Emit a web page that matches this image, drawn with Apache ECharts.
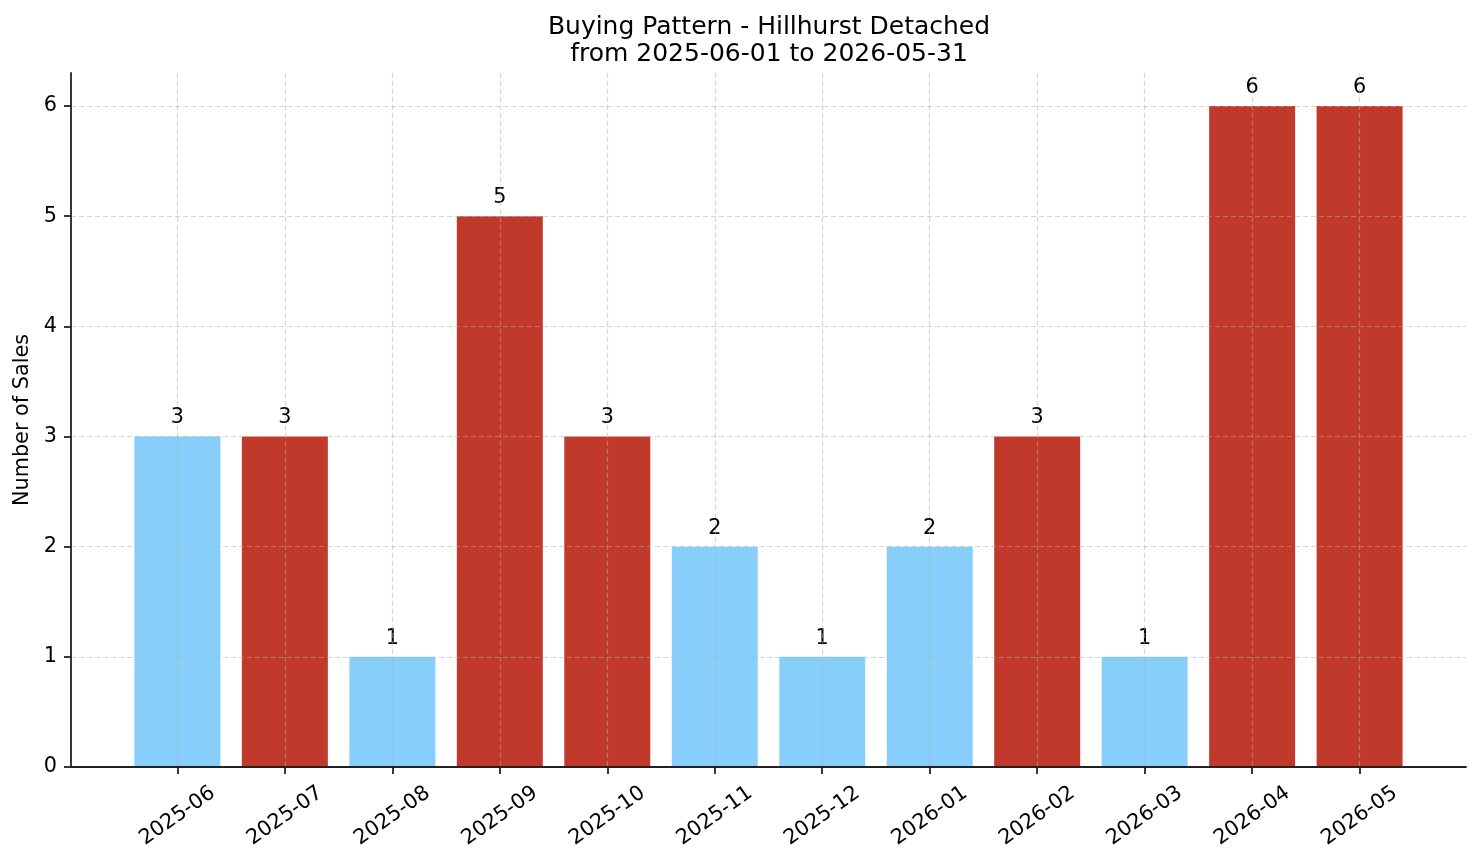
<!DOCTYPE html>
<html>
<head>
<meta charset="utf-8">
<script src="https://cdn.jsdelivr.net/npm/echarts@6/dist/echarts.min.js"></script>
<style>
  html, body { margin: 0; padding: 0; background: #fff; }
  #chart { width: 1481px; height: 863px; }
</style>
</head>
<body>
<div id="chart"></div>
<script>
const months = ['2025-06', '2025-07', '2025-08', '2025-09', '2025-10', '2025-11',
  '2025-12', '2026-01', '2026-02', '2026-03', '2026-04', '2026-05']
const sales = [3, 3, 1, 5, 3, 2, 1, 2, 3, 1, 6, 6]
// 1 = red bar, 0 = light blue bar
const highlighted = [0, 1, 0, 1, 1, 0, 0, 0, 1, 0, 1, 1]
const yTicks = [0, 1, 2, 3, 4, 5, 6]

const BLUE = '#87CEFA'
const RED = '#C0392B'
const FONT = 'DejaVu Sans'
const SPINE = '#222'
const GRID = 'rgba(176,176,176,0.5)'

const xIdx = months.map((_, i) => i)

const chart = echarts.init(document.getElementById('chart'), null, { renderer: 'canvas' })

chart.setOption({
  backgroundColor: '#fff',
  animation: false,
  textStyle: { fontFamily: FONT },
  title: {
    text: 'Buying Pattern - Hillhurst Detached\nfrom 2025-06-01 to 2026-05-31',
    left: 764,
    top: 9,
    textAlign: 'center',
    textStyle: { fontFamily: FONT, fontSize: 25, fontWeight: 'normal', color: '#000', lineHeight: 27 },
  },
  grid: { left: 71, right: 15, top: 73, bottom: 96 },
  xAxis: {
    type: 'value',
    min: -0.99,
    max: 11.99,
    z: 5,
    axisLine: { show: true, onZero: false, lineStyle: { color: SPINE, width: 1.8 } },
    axisTick: { show: true, length: 7, customValues: xIdx, lineStyle: { color: SPINE, width: 1.8 } },
    axisLabel: {
      customValues: xIdx,
      rotate: 35,
      align: 'center',
      verticalAlign: 'middle',
      margin: 49,
      fontSize: 20.8,
      color: '#000',
      fontFamily: FONT,
      formatter: (v) => months[Math.round(v)],
    },
    splitLine: { show: true, lineStyle: { color: GRID, width: 1.2, type: [5, 3] } },
  },
  yAxis: {
    type: 'value',
    min: 0,
    max: 6.3,
    z: 5,
    name: 'Number of Sales',
    nameLocation: 'middle',
    nameGap: 33,
    nameTextStyle: { fontSize: 20.8, color: '#000', fontFamily: FONT },
    axisLine: { show: true, onZero: false, lineStyle: { color: SPINE, width: 1.8 } },
    axisTick: { show: true, length: 7, customValues: yTicks, lineStyle: { color: SPINE, width: 1.8 } },
    axisLabel: { customValues: yTicks, margin: 14, fontSize: 20.8, color: '#000', fontFamily: FONT },
    splitLine: { show: true, lineStyle: { color: GRID, width: 1.2, type: [5, 3] } },
  },
  series: [
    {
      type: 'bar',
      barWidth: '80%',
      data: sales.map((v, i) => ({
        value: [i, v],
        itemStyle: { color: highlighted[i] ? RED : BLUE },
      })),
      label: {
        show: true,
        position: 'top',
        distance: 8,
        fontSize: 20.8,
        color: '#000',
        fontFamily: FONT,
        formatter: (p) => p.value[1],
      },
    },
  ],
})
</script>
</body>
</html>
